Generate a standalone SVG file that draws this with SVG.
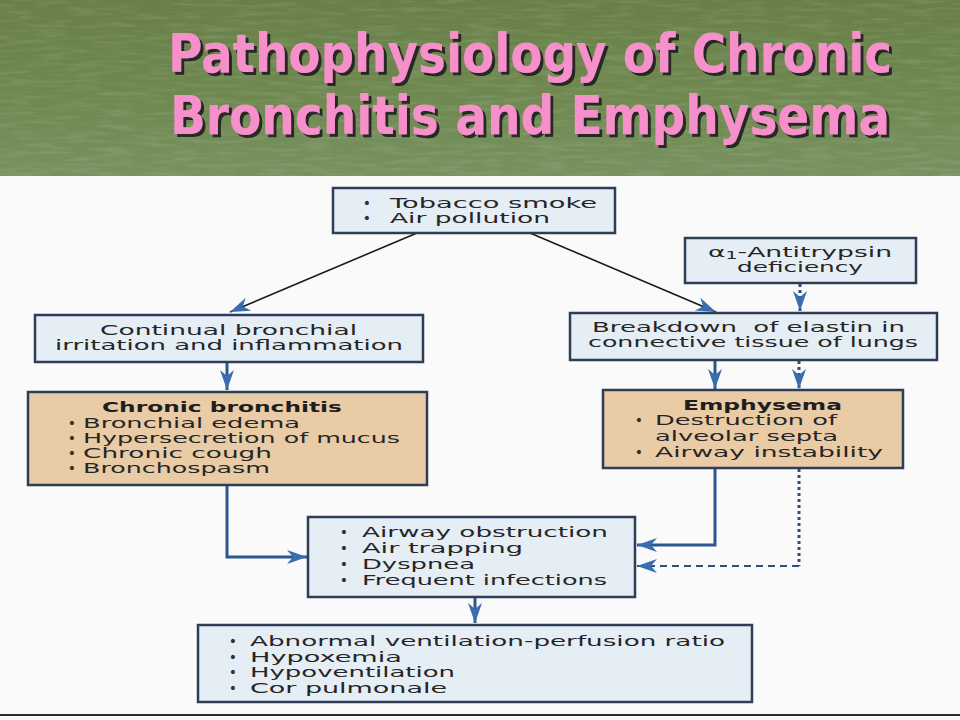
<svg xmlns="http://www.w3.org/2000/svg" width="960" height="720" viewBox="0 0 960 720">
<defs>
<linearGradient id="green" x1="0" y1="0" x2="0" y2="1">
<stop offset="0" stop-color="#687F48"/>
<stop offset="0.6" stop-color="#6F8951"/>
<stop offset="1" stop-color="#779260"/>
</linearGradient>
<filter id="tex" x="0" y="0" width="1" height="1">
<feTurbulence type="fractalNoise" baseFrequency="0.03 0.25" numOctaves="2" seed="7" result="n"/>
<feColorMatrix in="n" type="matrix" values="0 0 0 0 1  0 0 0 0 1  0 0 0 0 1  0 0 0 1.4 -0.6"/>
</filter>
<filter id="shadow" x="-5%" y="-20%" width="110%" height="140%">
<feDropShadow dx="3" dy="3" stdDeviation="0.6" flood-color="#1a1a1a" flood-opacity="0.9"/>
</filter>
<marker id="ah" markerUnits="userSpaceOnUse" markerWidth="22" markerHeight="16" refX="20" refY="8" orient="auto">
<path d="M0,1 L20,8 L0,15 L6,8 z" fill="#3A6DAE"/>
</marker>
</defs>
<style>
.title{font-family:"DejaVu Sans Condensed","DejaVu Sans",sans-serif;font-weight:bold;font-size:54px;fill:#F590CB;}
.t{font-family:"DejaVu Sans","Liberation Sans",sans-serif;font-size:14px;fill:#262626;white-space:pre;}
.b{font-family:"DejaVu Sans","Liberation Sans",sans-serif;font-size:14px;font-weight:bold;fill:#1e1e1e;}
.bul{font-family:"DejaVu Sans",sans-serif;font-size:14px;fill:#333;text-anchor:middle;}
.blue{fill:#E5EDF5;stroke:#2F3D57;stroke-width:2.5;}
.tan{fill:#E9CBA6;stroke:#2F3D57;stroke-width:2.5;}
.thin{fill:none;stroke:#1a1a1a;stroke-width:1.6;}
.solid{fill:none;stroke:#2C5790;stroke-width:3;}
.dot{fill:none;stroke:#2C4F80;stroke-width:3;stroke-dasharray:3 3;}
.dash{fill:none;stroke:#2C4F80;stroke-width:2;stroke-dasharray:7 5;}
</style>
<rect x="0" y="0" width="960" height="720" fill="#FAFAFA"/>
<rect x="0" y="0" width="960" height="176" fill="url(#green)"/>
<rect x="0" y="0" width="960" height="176" filter="url(#tex)" opacity="0.18"/>
<g id="title" filter="url(#shadow)">
<text class="title" x="168" y="72" textLength="724" lengthAdjust="spacingAndGlyphs">Pathophysiology of Chronic</text>
<text class="title" x="170" y="134" textLength="720" lengthAdjust="spacingAndGlyphs">Bronchitis and Emphysema</text>
</g>
<line x1="0" y1="715" x2="960" y2="715" stroke="#2a2a2a" stroke-width="2"/>
<g id="connectors">
<line class="thin" x1="417" y1="233" x2="230" y2="312" marker-end="url(#ah)"/>
<line class="thin" x1="530" y1="233" x2="716" y2="312" marker-end="url(#ah)"/>
<line class="dot" x1="800" y1="284" x2="800" y2="311" marker-end="url(#ah)"/>
<line class="solid" x1="227" y1="363" x2="227" y2="390" marker-end="url(#ah)"/>
<line class="solid" x1="715" y1="361" x2="715" y2="389" marker-end="url(#ah)"/>
<line class="dot" x1="799" y1="361" x2="799" y2="389" marker-end="url(#ah)"/>
<polyline class="solid" points="227,486 227,557 307,557" marker-end="url(#ah)"/>
<polyline class="solid" points="715,469 715,545 637,545" marker-end="url(#ah)"/>
<line class="dot" x1="799" y1="469" x2="799" y2="566"/>
<line class="dash" x1="799" y1="566" x2="637" y2="566" marker-end="url(#ah)"/>
<line class="solid" x1="475" y1="598" x2="475" y2="623" marker-end="url(#ah)"/>
</g>
<g id="tobacco">
<rect class="blue" x="333" y="188" width="282" height="45"/>
<text class="bul" x="367" y="208">•</text>
<text class="t" x="390" y="208" textLength="207" lengthAdjust="spacingAndGlyphs">Tobacco smoke</text>
<text class="bul" x="367" y="223">•</text>
<text class="t" x="390" y="223" textLength="160" lengthAdjust="spacingAndGlyphs">Air pollution</text>
</g>
<g id="alpha">
<rect class="blue" x="685" y="238" width="231" height="45"/>
<text class="t" x="708" y="257" textLength="184" lengthAdjust="spacingAndGlyphs">α<tspan font-size="10" dy="2">1</tspan><tspan dy="-2">-Antitrypsin</tspan></text>
<text class="t" x="737" y="272" textLength="126" lengthAdjust="spacingAndGlyphs">deficiency</text>
</g>
<g id="breakdown">
<rect class="blue" x="570" y="313" width="367" height="47"/>
<text class="t" x="592" y="332" textLength="313" lengthAdjust="spacingAndGlyphs">Breakdown  of elastin in</text>
<text class="t" x="588" y="347" textLength="330" lengthAdjust="spacingAndGlyphs">connective tissue of lungs</text>
</g>
<g id="continual">
<rect class="blue" x="35" y="315" width="388" height="47"/>
<text class="t" x="100" y="335" textLength="257" lengthAdjust="spacingAndGlyphs">Continual bronchial</text>
<text class="t" x="55" y="350" textLength="348" lengthAdjust="spacingAndGlyphs">irritation and inflammation</text>
</g>
<g id="chronic-bronchitis">
<rect class="tan" x="28" y="392" width="399" height="93"/>
<text class="b" x="102" y="412" textLength="240" lengthAdjust="spacingAndGlyphs">Chronic bronchitis</text>
<text class="bul" x="72" y="428">•</text>
<text class="t" x="83" y="428" textLength="217" lengthAdjust="spacingAndGlyphs">Bronchial edema</text>
<text class="bul" x="72" y="443">•</text>
<text class="t" x="83" y="443" textLength="317" lengthAdjust="spacingAndGlyphs">Hypersecretion of mucus</text>
<text class="bul" x="72" y="458">•</text>
<text class="t" x="83" y="458" textLength="189" lengthAdjust="spacingAndGlyphs">Chronic cough</text>
<text class="bul" x="72" y="473">•</text>
<text class="t" x="83" y="473" textLength="187" lengthAdjust="spacingAndGlyphs">Bronchospasm</text>
</g>
<g id="emphysema">
<rect class="tan" x="603" y="390" width="300" height="78"/>
<text class="b" x="683" y="410" textLength="159" lengthAdjust="spacingAndGlyphs">Emphysema</text>
<text class="bul" x="639" y="425">•</text>
<text class="t" x="655" y="425" textLength="182" lengthAdjust="spacingAndGlyphs">Destruction of</text>
<text class="t" x="655" y="441" textLength="183" lengthAdjust="spacingAndGlyphs">alveolar septa</text>
<text class="bul" x="639" y="457">•</text>
<text class="t" x="655" y="457" textLength="228" lengthAdjust="spacingAndGlyphs">Airway instability</text>
</g>
<g id="obstruction">
<rect class="blue" x="308" y="517" width="327" height="80"/>
<text class="bul" x="344" y="537">•</text>
<text class="t" x="362" y="537" textLength="246" lengthAdjust="spacingAndGlyphs">Airway obstruction</text>
<text class="bul" x="344" y="553">•</text>
<text class="t" x="362" y="553" textLength="161" lengthAdjust="spacingAndGlyphs">Air trapping</text>
<text class="bul" x="344" y="569">•</text>
<text class="t" x="362" y="569" textLength="113" lengthAdjust="spacingAndGlyphs">Dyspnea</text>
<text class="bul" x="344" y="585">•</text>
<text class="t" x="362" y="585" textLength="245" lengthAdjust="spacingAndGlyphs">Frequent infections</text>
</g>
<g id="outcomes">
<rect class="blue" x="198" y="625" width="554" height="77"/>
<text class="bul" x="233" y="646">•</text>
<text class="t" x="250" y="646" textLength="475" lengthAdjust="spacingAndGlyphs">Abnormal ventilation-perfusion ratio</text>
<text class="bul" x="233" y="662">•</text>
<text class="t" x="250" y="662" textLength="152" lengthAdjust="spacingAndGlyphs">Hypoxemia</text>
<text class="bul" x="233" y="677">•</text>
<text class="t" x="250" y="677" textLength="205" lengthAdjust="spacingAndGlyphs">Hypoventilation</text>
<text class="bul" x="233" y="693">•</text>
<text class="t" x="250" y="693" textLength="197" lengthAdjust="spacingAndGlyphs">Cor pulmonale</text>
</g>
</svg>
